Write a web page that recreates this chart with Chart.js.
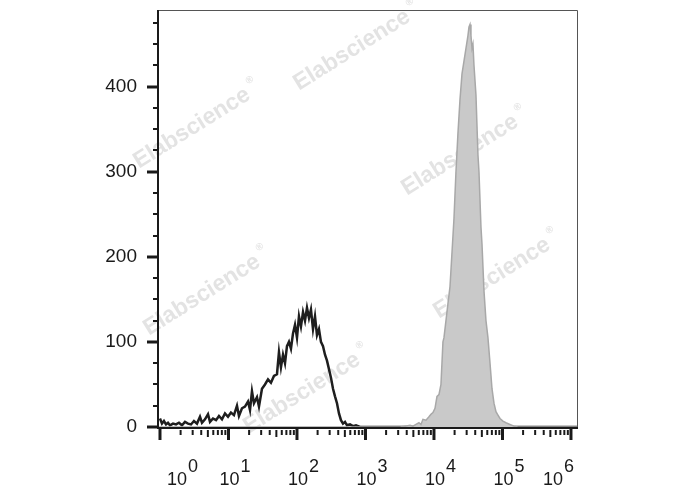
<!DOCTYPE html>
<html>
<head>
<meta charset="utf-8">
<script src="https://cdn.jsdelivr.net/npm/chart.js@4/dist/chart.umd.min.js"></script>
<style>
html,body{margin:0;padding:0;background:#fff;}
#wrap{width:688px;height:490px;}
</style>
</head>
<body>
<div id="wrap"><canvas id="c" width="688" height="490"></canvas></div>
<script>
// ---- data (x in log10 decades, y in counts) ----
const decadeTicks = [0, 1, 2, 3, 4, 5, 6];
const decadeLabels = ["0", "1", "2", "3", "4", "5", "6"];
const yTickValues = [0, 100, 200, 300, 400];

const unstainedX = [0.000,0.029,0.058,0.088,0.117,0.146,0.190,0.234,0.277,0.321,0.365,0.409,0.453,0.496,0.540,0.584,0.613,0.657,0.701,0.730,0.774,0.818,0.861,0.905,0.949,0.993,1.036,1.080,1.124,1.153,1.197,1.241,1.285,1.314,1.343,1.372,1.416,1.445,1.489,1.533,1.577,1.620,1.664,1.708,1.737,1.766,1.796,1.825,1.854,1.883,1.912,1.942,1.971,2.000,2.029,2.058,2.088,2.117,2.146,2.175,2.204,2.234,2.263,2.292,2.321,2.350,2.380,2.409,2.438,2.467,2.496,2.526,2.555,2.584,2.613,2.642,2.672,2.701,2.730,2.774,2.818,2.861,2.920,6.088];
const unstainedY = [10,4,7,3,5,2,4,3,5,2,6,4,3,7,4,12,5,9,15,6,10,8,13,9,16,12,17,14,25,13,22,24,30,20,42,28,35,24,45,50,56,52,60,62,88,70,85,75,95,100,92,110,120,105,130,118,135,125,140,128,138,115,130,108,115,100,95,85,78,68,58,45,36,28,16,8,4,6,2,3,1,2,0,0];

const stainedX = [-0.029,3.504,3.577,3.650,3.693,3.737,3.781,3.810,3.839,3.883,3.927,3.956,3.985,4.015,4.044,4.073,4.102,4.131,4.146,4.175,4.204,4.234,4.263,4.292,4.321,4.350,4.380,4.409,4.438,4.467,4.496,4.511,4.526,4.540,4.555,4.569,4.584,4.613,4.642,4.657,4.686,4.701,4.730,4.759,4.788,4.818,4.847,4.876,4.905,4.934,4.964,5.007,5.051,5.109,5.168,5.226,6.088];
const stainedY = [0,0,1,2,1,3,5,3,9,8,12,15,17,22,36,38,50,100,105,125,145,165,205,245,300,345,385,415,430,445,460,470,473,460,445,450,425,390,320,300,235,215,160,125,105,75,45,28,18,14,10,7,5,3,1,0,0];

const watermarkText = "Elabscience";
const watermarkSpots = [[357,47],[197,125],[465,152],[497,275],[207,292],[307,390]];

// ---- chart ----
const toPts = (xs, ys) => xs.map((x, i) => ({x: x, y: ys[i]}));

const FONT = "'Liberation Sans', Arial, Helvetica, sans-serif";

const watermarkPlugin = {
  id: 'watermark',
  beforeDatasetsDraw(chart) {
    const ctx = chart.ctx;
    ctx.save();
    ctx.fillStyle = 'rgba(200,200,200,0.5)';
    ctx.textAlign = 'center';
    ctx.textBaseline = 'middle';
    watermarkSpots.forEach(([cx, cy]) => {
      ctx.save();
      ctx.translate(cx, cy);
      ctx.rotate(-32 * Math.PI / 180);
      ctx.font = 'bold 23px ' + FONT;
      ctx.fillText(watermarkText, -6, 0);
      const w = ctx.measureText(watermarkText).width;
      ctx.font = 'bold 10px ' + FONT;
      ctx.fillText('\u00AE', w / 2 + 2, -10);
      ctx.restore();
    });
    ctx.restore();
  }
};

const axesPlugin = {
  id: 'flowAxes',
  afterDraw(chart) {
    const ctx = chart.ctx;
    const a = chart.chartArea;
    const xs = chart.scales.x, ys = chart.scales.y;
    ctx.save();
    // frame top / right
    ctx.strokeStyle = '#555';
    ctx.lineWidth = 1;
    ctx.beginPath();
    ctx.moveTo(a.left, a.top + 0.5);
    ctx.lineTo(a.right + 0.5, a.top + 0.5);
    ctx.lineTo(a.right + 0.5, a.bottom);
    ctx.stroke();

    ctx.strokeStyle = '#1a1a1a';
    // y axis line
    ctx.lineWidth = 2;
    ctx.beginPath();
    ctx.moveTo(a.left, a.top);
    ctx.lineTo(a.left, a.bottom + 2);
    ctx.stroke();
    // x axis line
    ctx.beginPath();
    ctx.moveTo(a.left - 1, a.bottom + 1);
    ctx.lineTo(a.right + 1, a.bottom + 1);
    ctx.stroke();

    // y ticks: major every 100, minor every 25
    for (let v = 0; v <= ys.max; v += 25) {
      const py = Math.round(ys.getPixelForValue(v));
      const major = v % 100 === 0;
      ctx.lineWidth = major ? 3 : 2;
      ctx.beginPath();
      ctx.moveTo(a.left - (major ? 11 : 5), py);
      ctx.lineTo(a.left, py);
      ctx.stroke();
    }
    // x ticks: decades with log minor ticks
    const y0 = a.bottom + 1;
    decadeTicks.forEach((d, i) => {
      const px = xs.getPixelForValue(d);
      ctx.lineWidth = 3;
      ctx.beginPath();
      ctx.moveTo(px, y0);
      ctx.lineTo(px, y0 + 12);
      ctx.stroke();
      if (i < decadeTicks.length - 1) {
        for (let m = 2; m <= 9; m++) {
          const mx = xs.getPixelForValue(d + Math.log10(m));
          const len = m === 5 ? 8 : 6;
          ctx.lineWidth = 2;
          ctx.beginPath();
          ctx.moveTo(mx, y0 + 2);
          ctx.lineTo(mx, y0 + len + 1);
          ctx.stroke();
        }
      }
    });
    // x tick labels: 10 with superscript exponent
    ctx.fillStyle = '#1a1a1a';
    ctx.font = '18px ' + FONT;
    ctx.textAlign = 'left';
    ctx.textBaseline = 'alphabetic';
    decadeTicks.forEach((d, i) => {
      const px = xs.getPixelForValue(d);
      let left = px - 9;
      if (i === 0) left = px + 7;
      if (i === decadeTicks.length - 1) left = px - 28;
      ctx.fillText('10', left, 485);
      ctx.fillText(decadeLabels[i], left + 21, 472);
    });
    ctx.restore();
  }
};

new Chart(document.getElementById('c'), {
  type: 'line',
  data: {
    datasets: [
      {
        label: 'stained',
        data: toPts(stainedX, stainedY),
        borderColor: '#a8a8a8',
        backgroundColor: '#c9c9c9',
        borderWidth: 1.5,
        fill: 'origin',
        pointRadius: 0,
        tension: 0,
        clip: 4
      },
      {
        label: 'unstained',
        data: toPts(unstainedX, unstainedY),
        borderColor: '#1e1e1e',
        borderWidth: 2.5,
        fill: false,
        pointRadius: 0,
        tension: 0,
        clip: 4
      }
    ]
  },
  options: {
    responsive: false,
    animation: false,
    devicePixelRatio: 1,
    layout: { padding: { top: 10, right: 111, left: 0, bottom: 0 } },
    plugins: { legend: { display: false }, tooltip: { enabled: false } },
    scales: {
      x: {
        type: 'linear',
        min: -0.029,
        max: 6.088,
        grid: { display: false },
        border: { display: false },
        ticks: { display: false },
        afterFit(s) { s.height = 63; s.paddingLeft = 0; s.paddingRight = 0; }
      },
      y: {
        type: 'linear',
        min: 0,
        max: 490,
        grid: { display: false, drawTicks: false },
        border: { display: false },
        afterBuildTicks(s) { s.ticks = yTickValues.map(v => ({ value: v })); },
        ticks: {
          padding: 21,
          color: '#1a1a1a',
          font: { family: FONT, size: 19 },
          callback: v => String(v)
        },
        afterFit(s) { s.width = 158; s.paddingTop = 0; s.paddingBottom = 0; }
      }
    }
  },
  plugins: [watermarkPlugin, axesPlugin]
});
</script>
</body>
</html>
